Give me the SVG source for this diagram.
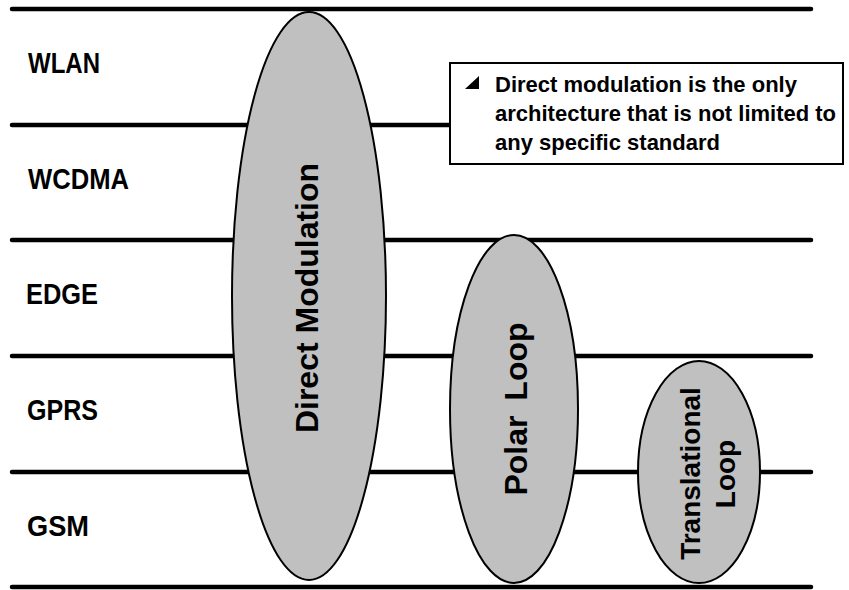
<svg xmlns="http://www.w3.org/2000/svg" width="849" height="590" viewBox="0 0 849 590">
<style>
.band{stroke:#000;stroke-width:4.5;stroke-linecap:round;fill:none}
.oval{fill:#c0c0c0;stroke:#000;stroke-width:2}
.lbl{font-family:"Liberation Sans",Arial,sans-serif;font-weight:bold;font-size:30px;fill:#000}
.otx{font-family:"Liberation Sans",Arial,sans-serif;font-weight:bold;fill:#000;text-anchor:middle}
.note{font-family:"Liberation Sans",Arial,sans-serif;font-weight:bold;font-size:22px;fill:#000}
</style>
<rect width="849" height="590" fill="#fff"/>
<g id="connectors">
<line class="band" x1="12" y1="9" x2="811" y2="9"/>
<line class="band" x1="12" y1="125" x2="811" y2="125"/>
<line class="band" x1="12" y1="240" x2="811" y2="240"/>
<line class="band" x1="12" y1="356" x2="811" y2="356"/>
<line class="band" x1="12" y1="472" x2="811" y2="472"/>
<line class="band" x1="12" y1="587" x2="811" y2="587"/>
</g>
<g id="labels">
<text id="wlan" class="lbl" x="28" y="73" textLength="72" lengthAdjust="spacingAndGlyphs">WLAN</text>
<text id="wcdma" class="lbl" x="28" y="189" textLength="101" lengthAdjust="spacingAndGlyphs">WCDMA</text>
<text id="edge" class="lbl" x="26" y="304" textLength="72" lengthAdjust="spacingAndGlyphs">EDGE</text>
<text id="gprs" class="lbl" x="27" y="420" textLength="71" lengthAdjust="spacingAndGlyphs">GPRS</text>
<text id="gsm" class="lbl" x="27" y="536" textLength="62" lengthAdjust="spacingAndGlyphs">GSM</text>
</g>
<g id="direct-modulation">
<ellipse class="oval" cx="309" cy="296" rx="77" ry="284"/>
<text class="otx" font-size="32" transform="translate(318,298) rotate(-90)">Direct Modulation</text>
</g>
<g id="polar-loop">
<ellipse class="oval" cx="514" cy="409" rx="64" ry="174"/>
<text class="otx" font-size="32" word-spacing="6" transform="translate(527,409) rotate(-90)">Polar Loop</text>
</g>
<g id="translational-loop">
<ellipse class="oval" cx="699" cy="472" rx="61" ry="111"/>
<text class="otx" font-size="28" transform="translate(700,473.5) rotate(-90)">Translational</text>
<text class="otx" font-size="28" transform="translate(735,474) rotate(-90)">Loop</text>
</g>
<g id="note">
<rect x="450" y="63" width="393" height="101" fill="#fff" stroke="#000" stroke-width="2"/>
<polygon points="465,89 479,89 479,76" fill="#000"/>
<text class="note" x="495" y="92">Direct modulation is the only</text>
<text class="note" x="495" y="121">architecture that is not limited to</text>
<text class="note" x="495" y="150">any specific standard</text>
</g>
</svg>
